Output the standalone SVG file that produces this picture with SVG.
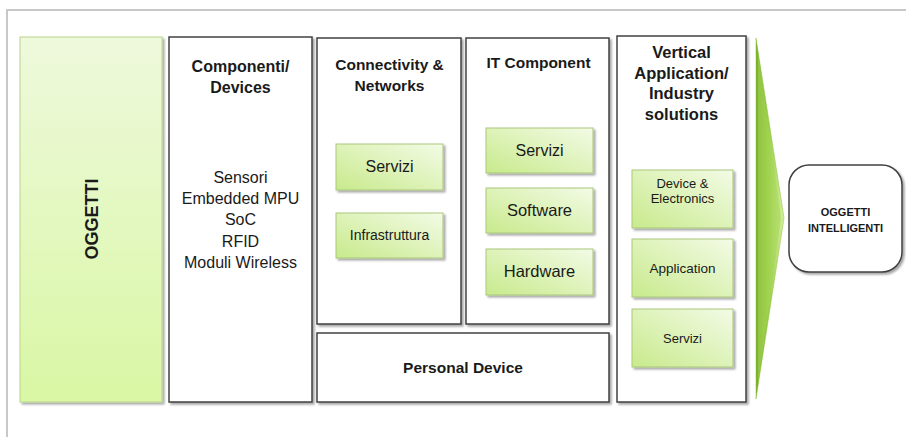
<svg xmlns="http://www.w3.org/2000/svg" width="906" height="437" viewBox="0 0 906 437">
<defs>
<linearGradient id="gOgg" x1="0" y1="0" x2="0" y2="1">
<stop offset="0" stop-color="#eef9dc"/>
<stop offset="1" stop-color="#d9f7a4"/>
</linearGradient>
<linearGradient id="gSub" x1="0" y1="1" x2="1" y2="0">
<stop offset="0" stop-color="#c8ea8c"/>
<stop offset="1" stop-color="#f3fbe6"/>
</linearGradient>
<linearGradient id="gArrow" x1="0" y1="0" x2="1" y2="0">
<stop offset="0" stop-color="#76ad2a"/>
<stop offset="0.45" stop-color="#9ccf4a"/>
<stop offset="1" stop-color="#d6f0a0"/>
</linearGradient>
<filter id="sh" x="-10%" y="-10%" width="130%" height="130%">
<feGaussianBlur in="SourceAlpha" stdDeviation="1.2"/>
<feOffset dx="1.5" dy="1.5" result="o"/>
<feComponentTransfer><feFuncA type="linear" slope="0.35"/></feComponentTransfer>
<feMerge><feMergeNode/><feMergeNode in="SourceGraphic"/></feMerge>
</filter>
</defs>
<style>
.frame{fill:none;stroke:#c8c8c8;stroke-width:2}
.box{fill:#ffffff;stroke:#404040;stroke-width:1.5}
.sub{fill:url(#gSub);stroke:#a9c77a;stroke-width:1}
.t{font-family:"Liberation Sans",Arial,sans-serif;fill:#1a1a1a;text-anchor:middle}
.b{font-weight:bold}
</style>
<rect width="906" height="437" fill="#ffffff"/>
<path class="frame" d="M7,437 V10 H906"/>

<g id="oggetti">
<rect x="20" y="37" width="142" height="365" fill="url(#gOgg)" stroke="#b8d48a" stroke-width="1" filter="url(#sh)"/>
<text class="t b" font-size="18" transform="translate(98,219) rotate(-90)">OGGETTI</text>
</g>

<g id="componenti">
<rect class="box" x="169" y="37" width="143" height="365" filter="url(#sh)"/>
<text class="t b" font-size="16" x="240.5" y="72">Componenti/</text>
<text class="t b" font-size="16" x="240.5" y="93">Devices</text>
<text class="t" font-size="16" x="240.5" y="183">Sensori</text>
<text class="t" font-size="16" x="240.5" y="204">Embedded MPU</text>
<text class="t" font-size="16" x="240.5" y="225">SoC</text>
<text class="t" font-size="16" x="240.5" y="247">RFID</text>
<text class="t" font-size="16" x="240.5" y="268">Moduli Wireless</text>
</g>

<g id="connectivity">
<rect class="box" x="317" y="38" width="144" height="286" filter="url(#sh)"/>
<text class="t b" font-size="15.5" x="389.5" y="70">Connectivity &amp;</text>
<text class="t b" font-size="15.5" x="389.5" y="91">Networks</text>
</g>
<g id="conn-servizi">
<rect class="sub" x="336" y="144" width="107" height="46" filter="url(#sh)"/>
<text class="t" font-size="16" x="389.5" y="172">Servizi</text>
</g>
<g id="conn-infrastruttura">
<rect class="sub" x="336" y="213" width="107" height="45" filter="url(#sh)"/>
<text class="t" font-size="14" x="389.5" y="240">Infrastruttura</text>
</g>

<g id="it-component">
<rect class="box" x="466" y="38" width="143" height="286" filter="url(#sh)"/>
<text class="t b" font-size="15.5" x="538.5" y="68">IT Component</text>
</g>
<g id="it-servizi">
<rect class="sub" x="486" y="128" width="107" height="45" filter="url(#sh)"/>
<text class="t" font-size="16" x="539.5" y="156">Servizi</text>
</g>
<g id="it-software">
<rect class="sub" x="486" y="188" width="107" height="45" filter="url(#sh)"/>
<text class="t" font-size="16.5" x="539.5" y="216">Software</text>
</g>
<g id="it-hardware">
<rect class="sub" x="486" y="249" width="107" height="46" filter="url(#sh)"/>
<text class="t" font-size="16.5" x="539.5" y="277">Hardware</text>
</g>

<g id="personal-device">
<rect class="box" x="317" y="333" width="292" height="69" filter="url(#sh)"/>
<text class="t b" font-size="15.5" x="463" y="373">Personal Device</text>
</g>

<g id="vertical">
<rect class="box" x="617" y="36" width="129" height="366" filter="url(#sh)"/>
<text class="t b" font-size="16.5" x="681.5" y="58">Vertical</text>
<text class="t b" font-size="16.5" x="681.5" y="79">Application/</text>
<text class="t b" font-size="16.5" x="681.5" y="99">Industry</text>
<text class="t b" font-size="16.5" x="681.5" y="120">solutions</text>
</g>
<g id="vert-device">
<rect class="sub" x="632" y="170" width="101" height="58" filter="url(#sh)"/>
<text class="t" font-size="13" x="682.5" y="188">Device &amp;</text>
<text class="t" font-size="13" x="682.5" y="203">Electronics</text>
</g>
<g id="vert-application">
<rect class="sub" x="632" y="239" width="101" height="58" filter="url(#sh)"/>
<text class="t" font-size="13.5" x="682.5" y="273">Application</text>
</g>
<g id="vert-servizi">
<rect class="sub" x="632" y="309" width="101" height="58" filter="url(#sh)"/>
<text class="t" font-size="13" x="682.5" y="343">Servizi</text>
</g>

<g id="connectors">
<path d="M756,38 L784,218 L756,399 Z" fill="url(#gArrow)" stroke="#8cbf3c" stroke-width="0.5"/>
<path d="M758,52 L781,218 L758,385 Z" fill="#a6d656" opacity="0.5"/>
</g>

<g id="oggetti-intelligenti">
<rect class="box" x="789" y="165" width="113" height="107" rx="20" ry="20" filter="url(#sh)"/>
<text class="t b" font-size="11" x="845.5" y="216">OGGETTI</text>
<text class="t b" font-size="11" x="845.5" y="232">INTELLIGENTI</text>
</g>
</svg>
